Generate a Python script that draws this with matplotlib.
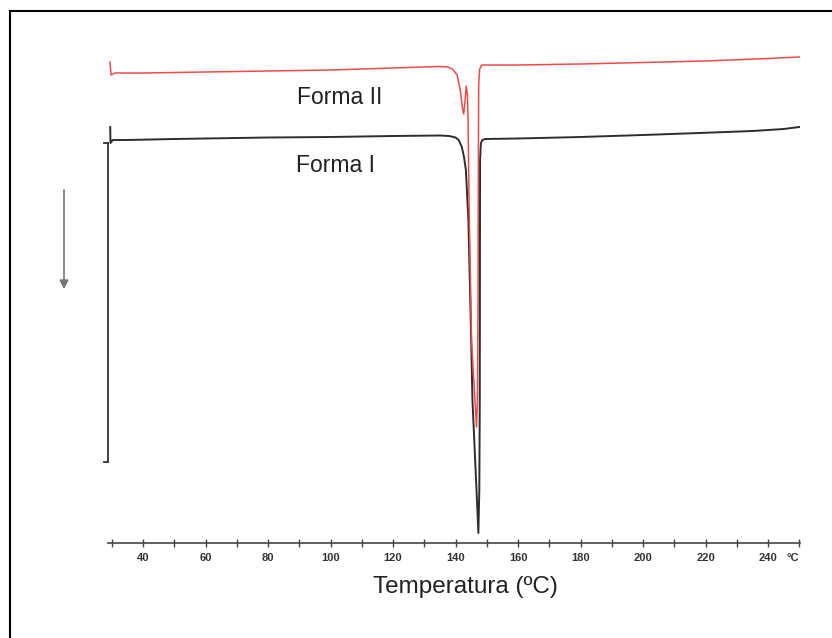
import matplotlib
matplotlib.use("Agg")
import matplotlib.pyplot as plt
from matplotlib.lines import Line2D

plt.rcParams['font.family'] = ['Liberation Sans', 'DejaVu Sans']

# Forma II (red) trace: temperature (°C) vs signal (arbitrary units, endo down)
t_form2 = [29.4, 29.8, 31, 40, 60, 80, 100, 120, 135, 137.5, 139, 140.5, 141.5,
           142.2, 142.6, 143.0, 143.4, 143.8, 144.0, 144.3, 145.1, 146.7,
           147.0, 147.2, 147.3, 147.4, 147.7, 148.4, 150, 160, 180, 200, 220, 240, 250]
s_form2 = [481, 468, 470, 470, 471, 472, 473, 475, 476.5, 476, 474, 468, 453,
           435, 429, 441, 457, 448, 423, 343, 203, 116,
           143, 243, 393, 458, 474, 478, 478, 478, 479, 480.5, 482, 484.5, 486]

# Forma I (black) trace
t_form1 = [29.5, 29.6, 30.3, 35, 50, 80, 100, 120, 135, 138, 140, 141, 142,
           142.7, 143.3, 144.1, 145.0, 145.4, 146.6, 147.3, 147.6, 147.75, 147.8,
           147.85, 148.1, 148.6, 149.5, 160, 180, 200, 218, 235, 245, 250]
s_form1 = [416, 400, 403, 403, 404, 405.5, 406, 407, 407.5, 407, 405.5, 403, 396,
           386, 373, 323, 203, 143, 60, 10, 53, 143, 293,
           383, 400, 403, 404, 404.5, 406, 408, 410, 412, 414, 416]

x_ticks = [40, 60, 80, 100, 120, 140, 160, 180, 200, 220, 240]
x_minor = [30, 50, 70, 90, 110, 130, 150, 170, 190, 210, 230, 250]
labels = ["Forma II", "Forma I"]
x_title = "Temperatura (ºC)"

W, H = 832, 638
fig = plt.figure(figsize=(W / 100, H / 100), dpi=100)
ax = fig.add_axes([108 / W, 1 - 543 / H, 692 / W, 532 / H])
ax.set_xlim(28.8, 250.2)
ax.set_ylim(0, 532)

ax.plot(t_form1, s_form1, color='#2e2e2e', lw=1.4, solid_joinstyle='round')
ax.plot(t_form2, s_form2, color='#ef4a4a', lw=1.1, solid_joinstyle='round')

for s in ['top', 'right', 'left']:
    ax.spines[s].set_visible(False)
ax.spines['bottom'].set_color('#444444')
ax.spines['bottom'].set_linewidth(1.2)
ax.set_yticks([])
ax.set_xticks(x_ticks)
ax.set_xticks(x_minor, minor=True)
ax.set_xticklabels([str(v) for v in x_ticks], fontsize=8, fontweight='bold', color='#333333')
ax.tick_params(axis='x', which='both', direction='inout', length=6, width=1, color='#444444', pad=4)
ax.text(247.8, -15, "°C", fontsize=8, fontweight='bold', color='#333333', ha='center', va='center', clip_on=False)

ax.text(340 / W, 1 - 97 / H, labels[0], transform=fig.transFigure, fontsize=16.5, color='#222222', ha='center', va='center')
ax.text(336 / W, 1 - 165 / H, labels[1], transform=fig.transFigure, fontsize=16.5, color='#222222', ha='center', va='center')
fig.text(465 / W, 1 - 587 / H, x_title, fontsize=17.5, color='#222222', ha='center', va='center')

# scale bracket
fig.add_artist(Line2D([108 / W, 108 / W], [1 - 143 / H, 1 - 462 / H], transform=fig.transFigure, color='#333333', lw=1.3))
for yy in (143, 462):
    fig.add_artist(Line2D([104 / W, 108 / W], [1 - yy / H, 1 - yy / H], transform=fig.transFigure, color='#333333', lw=1.3))

# endotherm arrow
ax.annotate('', xy=(64 / W, 1 - 292 / H), xytext=(64 / W, 1 - 187 / H), xycoords='figure fraction',
            textcoords='figure fraction',
            arrowprops=dict(arrowstyle='-|>', color='#777777', lw=1.2, mutation_scale=13))

# border (top & left)
fig.add_artist(Line2D([10 / W, 10 / W], [0, 1 - 11 / H], transform=fig.transFigure, color='black', lw=1.5))
fig.add_artist(Line2D([10 / W, 1], [1 - 11 / H, 1 - 11 / H], transform=fig.transFigure, color='black', lw=1.5))

fig.savefig("out.png", dpi=100)
